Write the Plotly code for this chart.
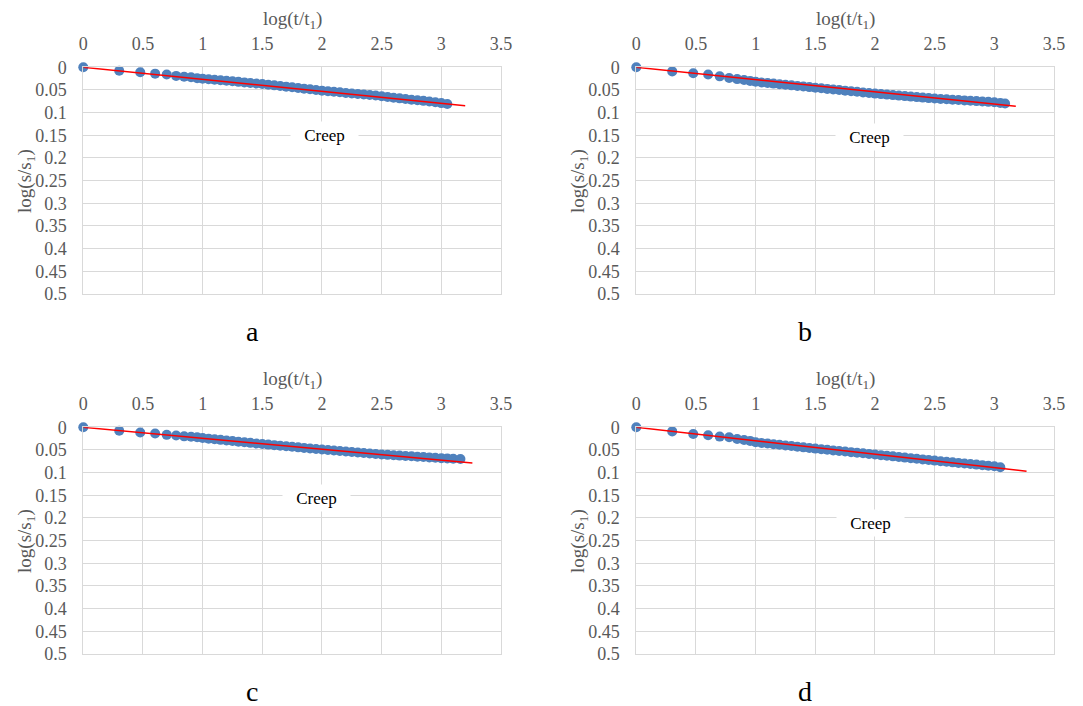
import plotly.graph_objects as go

# ---------------- data ----------------
x_early = [0, 0.301, 0.477, 0.602, 0.699, 0.778, 0.845, 0.903, 0.954]

x_dense_a = [1.00, 1.05, 1.10, 1.15, 1.20, 1.25, 1.30, 1.35, 1.40, 1.45, 1.50, 1.55, 1.60, 1.65,
             1.70, 1.75, 1.80, 1.85, 1.90, 1.95, 2.00, 2.05, 2.10, 2.15, 2.20, 2.25, 2.30, 2.35,
             2.40, 2.45, 2.50, 2.55, 2.60, 2.65, 2.70, 2.75, 2.80, 2.85, 2.90, 2.95, 3.00, 3.05]
y_a = [0, 0.0075, 0.011, 0.014, 0.016, 0.019, 0.021, 0.022, 0.024,
       0.0250, 0.0262, 0.0274, 0.0285, 0.0297, 0.0309, 0.0321, 0.0333, 0.0345, 0.0357, 0.0370,
       0.0384, 0.0398, 0.0412, 0.0427, 0.0441, 0.0456, 0.0471, 0.0485, 0.0500, 0.0515, 0.0527,
       0.0540, 0.0552, 0.0565, 0.0577, 0.0588, 0.0598, 0.0610, 0.0622, 0.0640, 0.0655, 0.0670,
       0.0685, 0.0700, 0.0715, 0.0728, 0.0740, 0.0755, 0.0772, 0.0790, 0.0810]

x_dense_b = [1.00, 1.05, 1.10, 1.15, 1.20, 1.25, 1.30, 1.35, 1.40, 1.45, 1.50, 1.55, 1.60, 1.65,
             1.70, 1.75, 1.80, 1.85, 1.90, 1.95, 2.00, 2.05, 2.10, 2.15, 2.20, 2.25, 2.30, 2.35,
             2.40, 2.45, 2.50, 2.55, 2.60, 2.65, 2.70, 2.75, 2.80, 2.85, 2.90, 2.95, 3.00, 3.05, 3.09]
y_b = [0, 0.009, 0.013, 0.016, 0.020, 0.0235, 0.026, 0.028, 0.030,
       0.0320, 0.0334, 0.0347, 0.0360, 0.0373, 0.0386, 0.0398, 0.0411, 0.0424, 0.0437, 0.0450,
       0.0463, 0.0476, 0.0489, 0.0502, 0.0515, 0.0528, 0.0541, 0.0554, 0.0567, 0.0580, 0.0591,
       0.0602, 0.0613, 0.0624, 0.0635, 0.0646, 0.0657, 0.0668, 0.0679, 0.0690, 0.0698, 0.0706,
       0.0714, 0.0722, 0.0730, 0.0738, 0.0746, 0.0754, 0.0762, 0.0770, 0.0785, 0.0800]

x_dense_c = [1.00, 1.05, 1.10, 1.15, 1.20, 1.25, 1.30, 1.35, 1.40, 1.45, 1.50, 1.55, 1.60, 1.65,
             1.70, 1.75, 1.80, 1.85, 1.90, 1.95, 2.00, 2.05, 2.10, 2.15, 2.20, 2.25, 2.30, 2.35,
             2.40, 2.45, 2.50, 2.55, 2.60, 2.65, 2.70, 2.75, 2.80, 2.85, 2.90, 2.95, 3.00, 3.05,
             3.10, 3.16]
y_c = [0, 0.0075, 0.0113, 0.0137, 0.0167, 0.018, 0.020, 0.021, 0.022,
       0.0236, 0.0250, 0.0263, 0.0277, 0.0290, 0.0303, 0.0317, 0.0330, 0.0343, 0.0357, 0.0370,
       0.0382, 0.0394, 0.0406, 0.0418, 0.0430, 0.0442, 0.0454, 0.0466, 0.0478, 0.0490, 0.0501,
       0.0512, 0.0523, 0.0534, 0.0545, 0.0556, 0.0567, 0.0578, 0.0589, 0.0600, 0.0608, 0.0616,
       0.0624, 0.0632, 0.0640, 0.0648, 0.0656, 0.0664, 0.0672, 0.0680, 0.0686, 0.0692, 0.0700]

x_dense_d = [1.00, 1.05, 1.10, 1.15, 1.20, 1.25, 1.30, 1.35, 1.40, 1.45, 1.50, 1.55, 1.60, 1.65,
             1.70, 1.75, 1.80, 1.85, 1.90, 1.95, 2.00, 2.05, 2.10, 2.15, 2.20, 2.25, 2.30, 2.35,
             2.40, 2.45, 2.50, 2.55, 2.60, 2.65, 2.70, 2.75, 2.80, 2.85, 2.90, 2.95, 3.00, 3.05]
y_d = [0, 0.009, 0.0147, 0.0176, 0.0205, 0.022, 0.0257, 0.028, 0.030,
       0.0330, 0.0344, 0.0358, 0.0372, 0.0386, 0.0400, 0.0414, 0.0428, 0.0442, 0.0456, 0.0470,
       0.0483, 0.0496, 0.0509, 0.0522, 0.0535, 0.0548, 0.0561, 0.0574, 0.0587, 0.0600, 0.0614,
       0.0627, 0.0641, 0.0654, 0.0668, 0.0681, 0.0695, 0.0708, 0.0722, 0.0735, 0.0748, 0.0760,
       0.0773, 0.0785, 0.0798, 0.0810, 0.0823, 0.0835, 0.0848, 0.0860, 0.0880]

fit_x = {"a": [0, 3.20], "b": [0, 3.18], "c": [0, 3.26], "d": [0, 3.27]}
fit_y = {"a": [0, 0.085], "b": [0, 0.086], "c": [0, 0.079], "d": [0, 0.097]}

creep_pos = {"a": (2.02, 0.149), "b": (1.95, 0.153), "c": (1.95, 0.156), "d": (1.96, 0.21)}

x_ticks = [0, 0.5, 1, 1.5, 2, 2.5, 3, 3.5]
x_tick_text = ["0", "0.5", "1", "1.5", "2", "2.5", "3", "3.5"]
y_ticks = [0, 0.05, 0.1, 0.15, 0.2, 0.25, 0.3, 0.35, 0.4, 0.45, 0.5]
y_tick_text = ["0", "0.05", "0.1", "0.15", "0.2", "0.25", "0.3", "0.35", "0.4", "0.45", "0.5"]

panel_names = ["a", "b", "c", "d"]
series_x = {"a": x_early + x_dense_a, "b": x_early + x_dense_b,
            "c": x_early + x_dense_c, "d": x_early + x_dense_d}
series_y = {"a": y_a, "b": y_b, "c": y_c, "d": y_d}

# ---------------- layout geometry ----------------
W, H = 1083, 706
FONT = "Liberation Serif, Times New Roman, serif"
GRID = "#d9d9d9"
TXT = "#595959"
BLUE = "#4f81bd"

# pixel boxes (left, right, top, bottom)
boxes = {
    "a": (83.3, 501.0, 67.3, 294.0),
    "b": (636.3, 1054.0, 67.3, 294.0),
    "c": (83.3, 501.0, 427.3, 654.0),
    "d": (636.3, 1054.0, 427.3, 654.0),
}

fig = go.Figure()
layout = dict(
    width=W, height=H, margin=dict(l=0, r=0, t=0, b=0),
    paper_bgcolor="white", plot_bgcolor="white", showlegend=False,
    font=dict(family=FONT, color=TXT),
)
annotations = []

for i, p in enumerate(panel_names):
    n = "" if i == 0 else str(i + 1)
    xa, ya = "x" + n, "y" + n
    l, r, t, b = boxes[p]
    fig.add_trace(go.Scatter(
        x=series_x[p], y=series_y[p], mode="markers", xaxis=xa, yaxis=ya,
        cliponaxis=False,
        marker=dict(color=BLUE, size=10, line=dict(width=0)),
    ))
    fig.add_trace(go.Scatter(
        x=fit_x[p], y=fit_y[p], mode="lines", xaxis=xa, yaxis=ya,
        cliponaxis=False,
        line=dict(color="#ff0000", width=1.5),
    ))
    layout["xaxis" + n] = dict(
        domain=[l / W, r / W], anchor=ya, side="top", range=[0, 3.5],
        automargin=False,
        tickvals=x_ticks, ticktext=x_tick_text,
        showgrid=True, gridcolor=GRID, gridwidth=1, zeroline=False,
        showline=True, linecolor=GRID, mirror=True,
        ticks="outside", ticklen=9, tickcolor="rgba(0,0,0,0)",
        tickfont=dict(family=FONT, size=18, color=TXT),
    )
    layout["yaxis" + n] = dict(
        domain=[1 - b / H, 1 - t / H], anchor=xa, range=[0.5, 0],
        automargin=False,
        tickvals=y_ticks, ticktext=y_tick_text,
        showgrid=True, gridcolor=GRID, gridwidth=1, zeroline=False,
        showline=True, linecolor=GRID, mirror=True,
        ticks="outside", ticklen=12, tickcolor="rgba(0,0,0,0)",
        tickfont=dict(family=FONT, size=18, color=TXT),
    )
    cx = (l + r) / 2
    # top axis title
    annotations.append(dict(
        text="log(t/t<sub>1</sub>)", xref="paper", yref="paper",
        x=cx / W, y=1 - (t - 47) / H, xanchor="center", yanchor="middle",
        showarrow=False, font=dict(family=FONT, size=19, color=TXT),
    ))
    # left axis title
    annotations.append(dict(
        text="log(s/s<sub>1</sub>)", xref="paper", yref="paper",
        x=(l - 58) / W, y=1 - ((t + b) / 2) / H, xanchor="center", yanchor="middle",
        textangle=-90, showarrow=False, font=dict(family=FONT, size=19, color=TXT),
    ))
    # panel letter
    annotations.append(dict(
        text=p, xref="paper", yref="paper",
        x=(cx - 40) / W, y=1 - (b + 37) / H, xanchor="center", yanchor="middle",
        showarrow=False, font=dict(family=FONT, size=28, color="black"),
    ))
    # Creep label
    cxp, cyp = creep_pos[p]
    annotations.append(dict(
        text="Creep", xref=xa, yref=ya, x=cxp, y=cyp,
        xanchor="center", yanchor="middle", showarrow=False,
        bgcolor="white", width=65, height=24,
        font=dict(family=FONT, size=17, color="black"),
    ))

layout["annotations"] = annotations
fig.update_layout(**layout)
fig.write_html("out.html")
